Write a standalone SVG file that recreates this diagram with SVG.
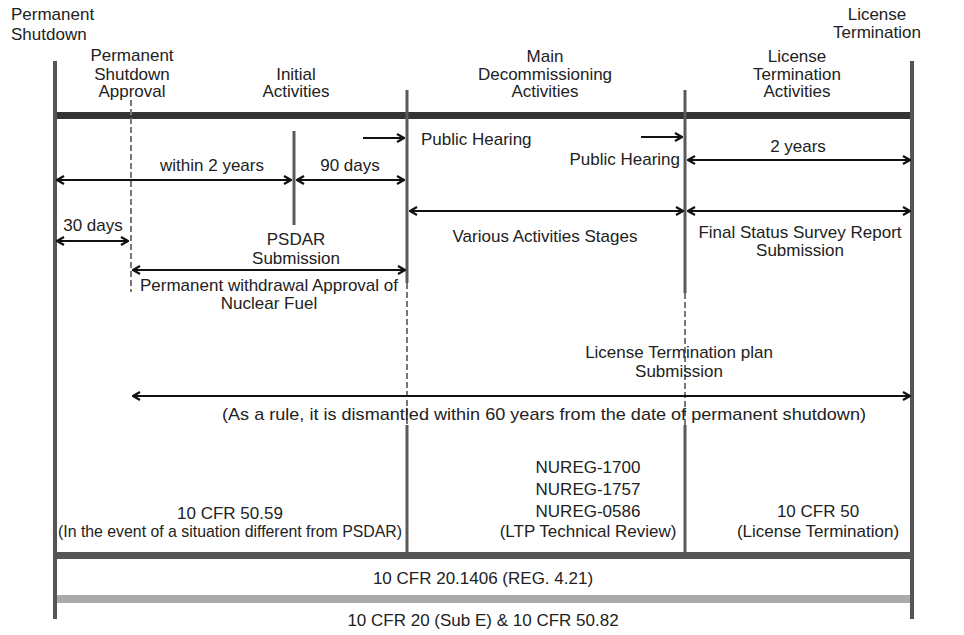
<svg xmlns="http://www.w3.org/2000/svg" width="964" height="635" viewBox="0 0 964 635">
<defs>
<marker id="ah" viewBox="0 0 10 10" refX="9" refY="5" markerWidth="10" markerHeight="10" markerUnits="userSpaceOnUse" orient="auto-start-reverse">
<path d="M2,1 L9,5 L2,9" fill="none" stroke="#111" stroke-width="2.2"/>
</marker>
</defs>
<style>
text { font-family: "Liberation Sans", Arial, sans-serif; font-size: 17px; fill: #222; }
.m { text-anchor: middle; }
.e { text-anchor: end; }
.vl { stroke: #555; stroke-width: 4; }
.vi { stroke: #5a5a5a; stroke-width: 3; }
.vd { stroke: #777; stroke-width: 2; stroke-dasharray: 6 3; }
.ar { stroke: #111; stroke-width: 2.2; fill: none; marker-end: url(#ah); }
.dbl { marker-start: url(#ah); }
</style>
<rect width="964" height="635" fill="#fff"/>

<g id="frame">
<rect x="55" y="112" width="857" height="7" fill="#333"/>
<rect x="55" y="552" width="857" height="7" fill="#555"/>
<rect x="55" y="595" width="857" height="8" fill="#aaa"/>
<line class="vl" x1="55" y1="61" x2="55" y2="619"/>
<line class="vl" x1="912" y1="61" x2="912" y2="619"/>
<line class="vd" x1="131" y1="100" x2="131" y2="292"/>
<line class="vi" x1="294" y1="131" x2="294" y2="225"/>
<line class="vi" x1="407" y1="90" x2="407" y2="283"/>
<line class="vd" x1="407" y1="283" x2="407" y2="425"/>
<line class="vi" x1="407" y1="425" x2="407" y2="552"/>
<line class="vi" x1="685" y1="90" x2="685" y2="293"/>
<line class="vd" x1="685" y1="293" x2="685" y2="425"/>
<line class="vi" x1="685" y1="425" x2="685" y2="552"/>
</g>

<g id="connectors">
<line class="ar" x1="363" y1="138" x2="404" y2="138"/>
<line class="ar" x1="641" y1="137" x2="682" y2="137"/>
<line class="ar dbl" x1="57" y1="180" x2="291" y2="180"/>
<line class="ar dbl" x1="297" y1="180" x2="404" y2="180"/>
<line class="ar dbl" x1="688" y1="160" x2="910" y2="160"/>
<line class="ar dbl" x1="57" y1="241" x2="128" y2="241"/>
<line class="ar dbl" x1="410" y1="211" x2="683" y2="211"/>
<line class="ar dbl" x1="688" y1="211" x2="910" y2="211"/>
<line class="ar dbl" x1="133" y1="270" x2="405" y2="270"/>
<line class="ar dbl" x1="133" y1="396" x2="910" y2="396"/>
</g>

<g id="permanent-shutdown"><text x="11" y="20">Permanent</text><text x="11" y="40">Shutdown</text></g>
<g id="permanent-shutdown-approval"><text class="m" x="132" y="61">Permanent</text><text class="m" x="132" y="80">Shutdown</text><text class="m" x="132" y="97">Approval</text></g>
<g id="initial-activities"><text class="m" x="296" y="80">Initial</text><text class="m" x="296" y="97">Activities</text></g>
<g id="main-decommissioning"><text class="m" x="545" y="62">Main</text><text class="m" x="545" y="80">Decommissioning</text><text class="m" x="545" y="97">Activities</text></g>
<g id="license-termination-activities"><text class="m" x="797" y="62">License</text><text class="m" x="797" y="80">Termination</text><text class="m" x="797" y="97">Activities</text></g>
<g id="license-termination"><text class="m" x="877" y="20">License</text><text class="m" x="877" y="38">Termination</text></g>

<g id="public-hearing-1"><text x="421" y="145">Public Hearing</text></g>
<g id="public-hearing-2"><text class="e" x="680" y="165">Public Hearing</text></g>
<g id="two-years"><text class="m" x="798" y="152">2 years</text></g>
<g id="within-2-years"><text class="m" x="212" y="171">within 2 years</text></g>
<g id="ninety-days"><text class="m" x="350" y="171">90 days</text></g>
<g id="thirty-days"><text class="m" x="93" y="231">30 days</text></g>
<g id="psdar"><text class="m" x="296" y="245">PSDAR</text><text class="m" x="296" y="264">Submission</text></g>
<g id="various-stages"><text class="m" x="545" y="242">Various Activities Stages</text></g>
<g id="final-status"><text class="m" x="800" y="238">Final Status Survey Report</text><text class="m" x="800" y="256">Submission</text></g>
<g id="withdrawal"><text class="m" x="269" y="291">Permanent withdrawal Approval of</text><text class="m" x="269" y="309">Nuclear Fuel</text></g>
<g id="ltp"><text class="m" x="679" y="358">License Termination plan</text><text class="m" x="679" y="377">Submission</text></g>
<g id="sixty-years"><text x="222" y="420" textLength="644" lengthAdjust="spacingAndGlyphs">(As a rule, it is dismantled within 60 years from the date of permanent shutdown)</text></g>
<g id="cfr-50-59"><text class="m" x="230" y="519">10 CFR 50.59</text><text class="m" x="230" y="537" textLength="344" lengthAdjust="spacingAndGlyphs">(In the event of a situation different from PSDAR)</text></g>
<g id="nureg"><text class="m" x="588" y="473">NUREG-1700</text><text class="m" x="588" y="495">NUREG-1757</text><text class="m" x="588" y="517">NUREG-0586</text><text class="m" x="588" y="537">(LTP Technical Review)</text></g>
<g id="cfr-50"><text class="m" x="818" y="517">10 CFR 50</text><text class="m" x="818" y="537">(License Termination)</text></g>
<g id="cfr-20-1406"><text class="m" x="483" y="584">10 CFR 20.1406 (REG. 4.21)</text></g>
<g id="cfr-20-sub-e"><text class="m" x="483" y="626">10 CFR 20 (Sub E) &amp; 10 CFR 50.82</text></g>
</svg>
